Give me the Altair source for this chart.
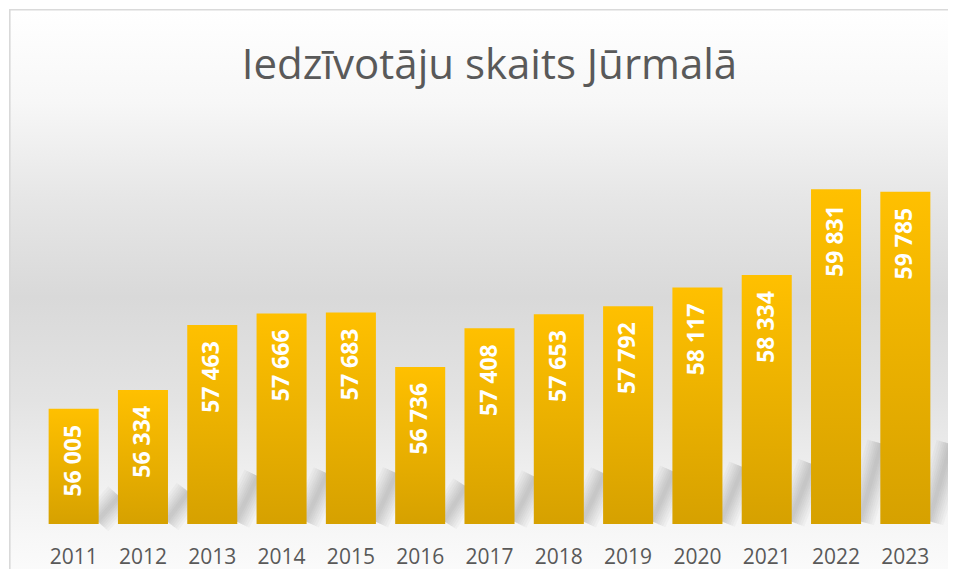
import altair as alt
import pandas as pd

years = ["2011", "2012", "2013", "2014", "2015", "2016", "2017",
         "2018", "2019", "2020", "2021", "2022", "2023"]
population = [56005, 56334, 57463, 57666, 57683, 56736, 57408,
              57653, 57792, 58117, 58334, 59831, 59785]
labels = [f"{v:,}".replace(",", " ") for v in population]

df = pd.DataFrame({"year": years, "pop": population, "label": labels})

PAD_L, PAD_T, PAD_R, PAD_B = 31, 114, 8, 45
W, H = 901, 402
BASE = 54000
N = len(years)

bg_grad = alt.Gradient(
    gradient="linear", x1=0, x2=0, y1=0, y2=1,
    stops=[
        alt.GradientStop(color="#ffffff", offset=0.0),
        alt.GradientStop(color="#f7f7f7", offset=0.16),
        alt.GradientStop(color="#e6e6e6", offset=0.33),
        alt.GradientStop(color="#d9d9d9", offset=0.5),
        alt.GradientStop(color="#e3e3e3", offset=0.68),
        alt.GradientStop(color="#eeeeee", offset=0.8),
        alt.GradientStop(color="#f7f7f7", offset=0.915),
        alt.GradientStop(color="#fcfcfc", offset=1.0),
    ],
)

bar_grad = alt.Gradient(
    gradient="linear", x1=0, x2=0, y1=0, y2=1,
    stops=[
        alt.GradientStop(color="#ffc000", offset=0.0),
        alt.GradientStop(color="#d6a100", offset=1.0),
    ],
)

background = alt.Chart(df).mark_rect(
    fill=bg_grad, stroke="#d9d9d9", strokeWidth=1.2
).encode(
    x=alt.value(-29), x2=alt.value(W + 40),
    y=alt.value(-112), y2=alt.value(H + 60),
)

x_enc = alt.X(
    "year:N", sort=years, title=None,
    scale=alt.Scale(paddingInner=0.278, paddingOuter=0.139),
    axis=alt.Axis(labelAngle=0, labelFont="Open Sans", labelFontSize=21,
                  labelColor="#595959", domain=False, ticks=False,
                  labelPadding=22, grid=False, zindex=2),
)
y_enc = alt.Y("pop:Q", title=None,
              scale=alt.Scale(domain=[BASE, 61000], zero=False, nice=False),
              axis=None)

# soft diagonal floor shadows behind the bars (band units: one year = 1)
shadow_base = alt.Chart(df).transform_window(
    idx="row_number()"
).transform_calculate(
    sx0="datum.idx - 0.5 + 0.34",
    sx1="datum.idx - 0.5 + 0.66",
    sy0=f"{BASE} + 50",
    sy1=f"{BASE} + (datum.pop - {BASE}) * 0.24",
).transform_fold(
    ["p0", "p1"], as_=["pt", "dummy"]
).transform_calculate(
    sx="datum.pt == 'p0' ? datum.sx0 : datum.sx1",
    sy="datum.pt == 'p0' ? datum.sy0 : datum.sy1",
)
shadows = []
for sw in [30, 25, 20, 16, 12, 8, 4]:
    shadows.append(
        shadow_base.mark_line(
            strokeWidth=sw, opacity=0.045, color="#555555", strokeCap="butt",
        ).encode(
            x=alt.X("sx:Q", scale=alt.Scale(domain=[0, N], nice=False, zero=False),
                    axis=None),
            y=alt.Y("sy:Q", axis=None),
            detail="year:N",
            order="pt:N",
        )
    )

bars = alt.Chart(df).mark_bar(fill=bar_grad, cornerRadius=0).encode(
    x=x_enc, y=y_enc, y2=alt.datum(BASE)
)

text = alt.Chart(df).mark_text(
    angle=270, align="right", baseline="middle", dx=-16,
    font="Open Sans", fontWeight="bold", fontSize=23, color="white"
).encode(x=alt.X("year:N", sort=years), y=alt.Y("pop:Q", axis=None), text="label:N")

front = alt.layer(bars, text)

chart = alt.layer(background, *shadows, front).resolve_scale(
    x="independent"
).properties(
    width=W, height=H,
    autosize=alt.AutoSizeParams(type="none"),
    padding={"left": PAD_L, "top": PAD_T, "right": PAD_R, "bottom": PAD_B},
    title=alt.TitleParams(
        "Iedzīvotāju skaits Jūrmalā", font="Open Sans", fontSize=42,
        fontWeight="normal", color="#595959", anchor="middle", offset=0,
        baseline="alphabetic", dy=112, zindex=2,
    ),
).configure_view(stroke=None).configure(background="white")

chart.save("out.html", embed_options={"renderer": "svg", "actions": False})
